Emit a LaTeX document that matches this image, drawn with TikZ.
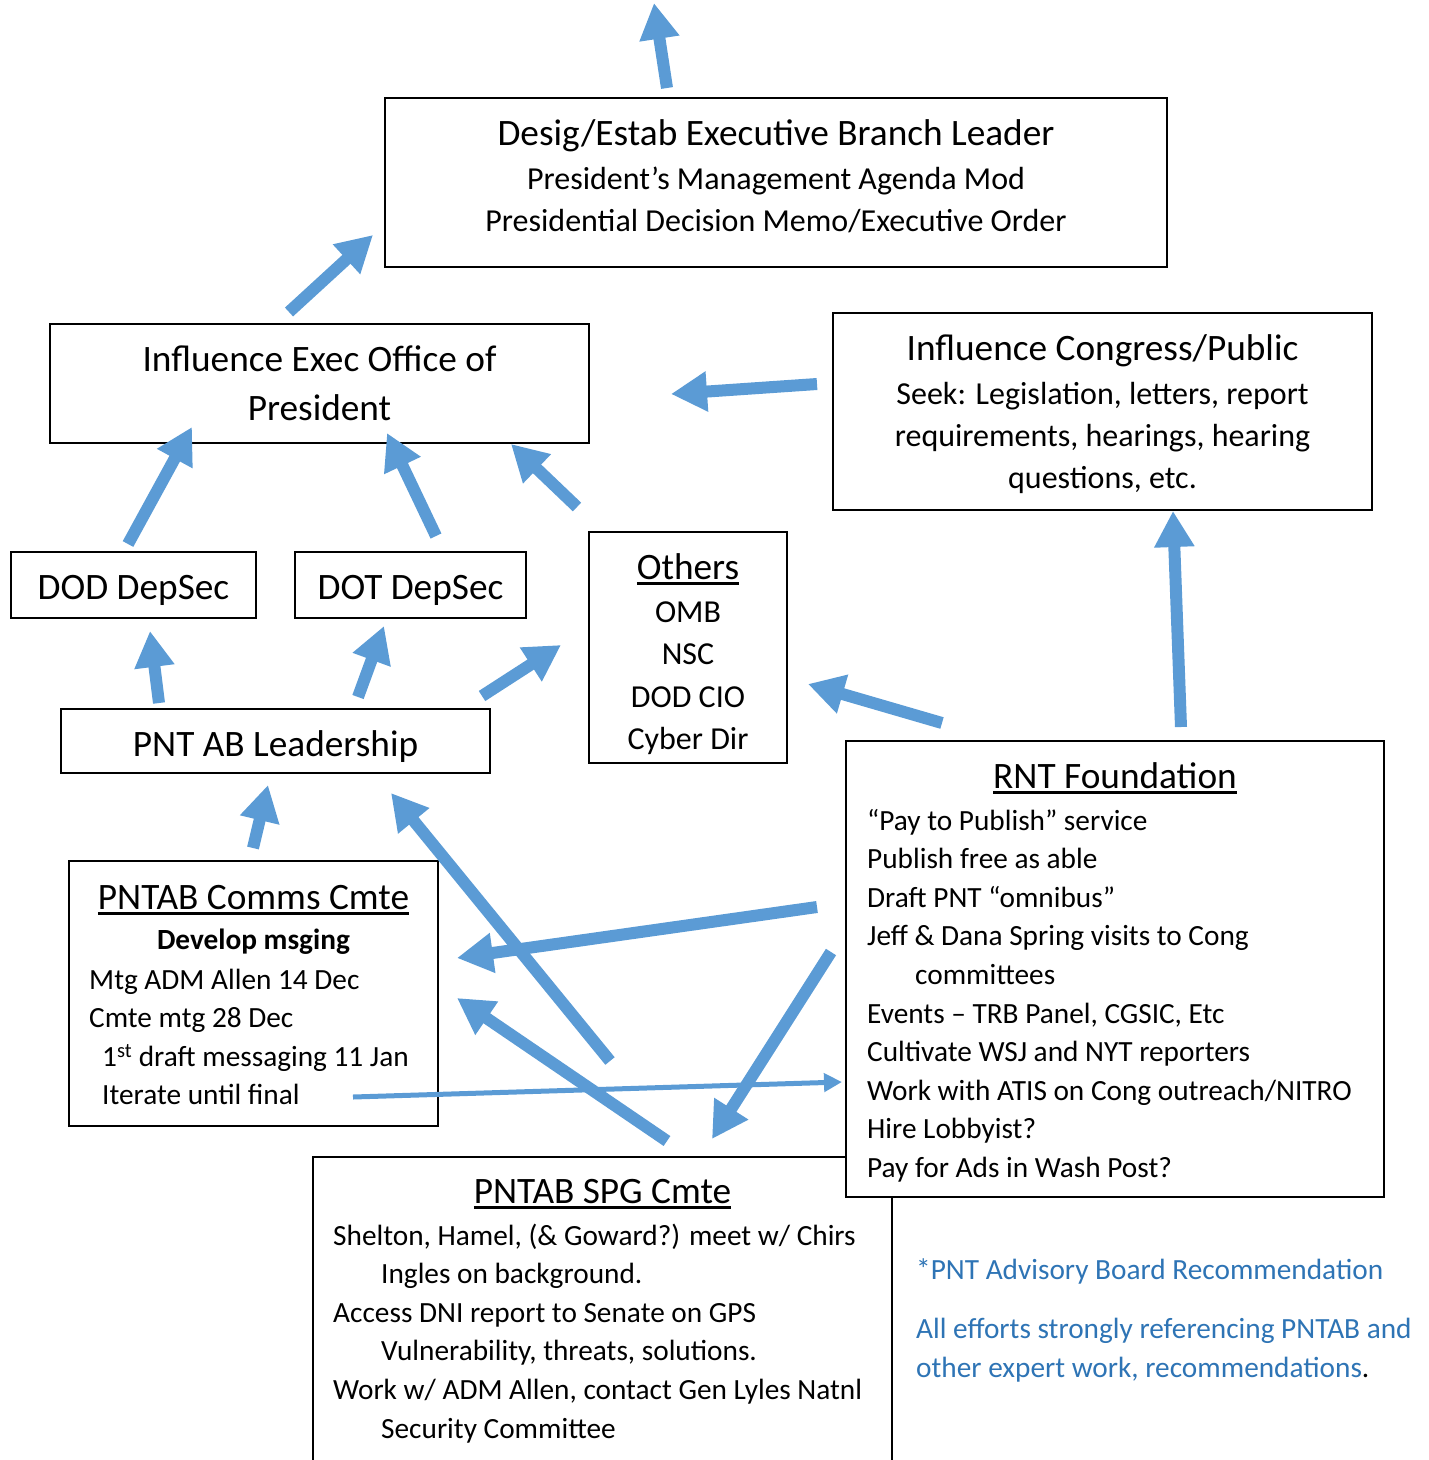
\documentclass[tikz,border=0pt]{standalone}
\usepackage{fontspec}
\setmainfont{Carlito}
\usepackage{xcolor}
\usetikzlibrary{arrows.meta, calc, positioning}
\definecolor{flowblue}{HTML}{5B9BD5}
\definecolor{noteblue}{HTML}{2E74B5}
\newcommand{\ultext}[1]{\setbox0\hbox{#1}\rlap{\rule[-5.5pt]{\wd0}{2.6pt}}\box0}

\begin{document}
\begin{tikzpicture}[x=1pt, y=-1pt,
    box/.style={draw, line width=2pt, inner sep=0pt},
    big/.style={font=\fontsize{37.3}{49}\selectfont, inner sep=0pt},
    mid/.style={font=\fontsize{32}{42.3}\selectfont, inner sep=0pt},
    small/.style={font=\fontsize{29.3}{38.6}\selectfont, inner sep=0pt},
    flow/.style={draw=flowblue, line width=12pt, -{Triangle[length=36pt, width=38pt]}},
    thinflow/.style={draw=flowblue, line width=5pt, -{Triangle[length=18pt, width=18pt]}}]
    \useasboundingbox (0,0) rectangle (1429,1460);
    \clip (0,0) rectangle (1429,1460);

    % boxes
    \node[box, minimum width=782pt, minimum height=169pt] (exec) at (776,182.5) {};
    \node[box, minimum width=539pt, minimum height=119pt] (eop) at (319.5,383.5) {};
    \node[box, minimum width=539pt, minimum height=197pt] (cong) at (1102.5,411.5) {};
    \node[box, minimum width=245pt, minimum height=66pt] (dod) at (133.5,585) {};
    \node[box, minimum width=231pt, minimum height=66pt] (dot) at (410.5,585) {};
    \node[box, minimum width=198pt, minimum height=231pt] (others) at (688,647.5) {};
    \node[box, minimum width=429pt, minimum height=64pt] (pntab) at (275.5,741) {};
    \node[box, minimum width=369pt, minimum height=265pt] (comms) at (253.5,993.5) {};
    \node[box, minimum width=579pt, minimum height=343pt] (spg) at (602.5,1328.5) {};
    \node[box, fill=white, minimum width=538pt, minimum height=456pt] (rnt) at (1115,969) {};

    % texts (base of a multi-line node = its last line)
    \node[big, anchor=base] (exec-title) at (776,145) {Desig/Estab Executive Branch Leader};
    \node[mid, anchor=base, align=center] (exec-text) at (776,231.5)
        {President’s Management Agenda Mod\\Presidential Decision Memo/Executive Order};
    \node[big, anchor=base, align=center] (eop-text) at (319.5,420) {Influence Exec Office of\\President};
    \node[big, anchor=base] (cong-title) at (1102.5,360) {Influence Congress/Public};
    \node[mid, anchor=base, align=center] (cong-text) at (1102.5,488.6)
        {Seek: Legislation, letters, report\\requirements, hearings, hearing\\questions, etc.};
    \node[big, anchor=base] (dod-text) at (133.5,599) {DOD DepSec};
    \node[big, anchor=base] (dot-text) at (410.5,599) {DOT DepSec};
    \node[big, anchor=base] (others-title) at (688,579) {\ultext{Others}};
    \node[mid, anchor=base, align=center] (others-text) at (688,749.5) {OMB\\NSC\\DOD CIO\\Cyber Dir};
    \node[big, anchor=base] (pntab-text) at (275.5,756) {PNT AB Leadership};
    \node[big, anchor=base] (comms-title) at (253.5,909) {\ultext{PNTAB Comms Cmte}};
    \node[small, anchor=base] (comms-head) at (253.5,949) {\bfseries Develop msging};
    \node[small, anchor=base west, align=left] (comms-text) at (89,1104.8)
        {Mtg ADM Allen 14 Dec\\Cmte mtg 28 Dec\\
         \hspace*{13pt}1\textsuperscript{st} draft messaging 11 Jan\\\hspace*{13pt}Iterate until final};
    \node[big, anchor=base] (rnt-title) at (1115,788) {\ultext{RNT Foundation}};
    \node[small, anchor=base west, align=left] (rnt-text) at (867,1177.4)
        {“Pay to Publish” service\\Publish free as able\\Draft PNT “omnibus”\\
         Jeff \& Dana Spring visits to Cong\\\hspace*{48pt}committees\\
         Events – TRB Panel, CGSIC, Etc\\Cultivate WSJ and NYT reporters\\
         Work with ATIS on Cong outreach/NITRO\\Hire Lobbyist?\\Pay for Ads in Wash Post?};
    \node[big, anchor=base] (spg-title) at (602.5,1203) {\ultext{PNTAB SPG Cmte}};
    \node[small, anchor=base west, align=left] (spg-text) at (333,1438)
        {Shelton, Hamel, (\& Goward?) meet w/ Chirs\\\hspace*{48pt}Ingles on background.\\
         Access DNI report to Senate on GPS\\\hspace*{48pt}Vulnerability, threats, solutions.\\
         Work w/ ADM Allen, contact Gen Lyles Natnl\\\hspace*{48pt}Security Committee};
    \node[small, anchor=base west, text=noteblue] (note-a) at (916,1279) {*PNT Advisory Board Recommendation};
    \node[small, anchor=base west, align=left, text=noteblue, font=\fontsize{29.3}{39}\selectfont] (note-b) at (916,1377)
        {All efforts strongly referencing PNTAB and\\other expert work, recommendations{\color{black}.}};

    % arrows
    \draw[flow] ($(exec.north)+(-109,-9)$) -- ($(exec.north)+(-122,-94)$);
    \draw[flow] ($(eop.north)+(-30.5,-11)$) -- ($(exec.south west)+(-11,-33)$);
    \draw[flow] ($(dod.north)+(-5.5,-7)$) -- ($(eop.south)+(-127.5,-17)$);
    \draw[flow] ($(dot.north)+(25.5,-15)$) -- ($(eop.south)+(67.5,-11)$);
    \draw[flow] ($(others.north west)+(-11,-24)$) -- ($(eop.south east)+(-79,0)$);
    \draw[flow] ($(cong.west)+(-15,-27.5)$) -- ($(eop.east)+(81,10.5)$);
    \draw[flow] ($(pntab.north west)+(99,-5)$) -- ($(dod.south)+(16.5,12)$);
    \draw[flow] ($(pntab.north)+(82.5,-11)$) -- ($(dot.south)+(-26.5,7)$);
    \draw[flow] ($(pntab.north east)+(-9,-12)$) -- ($(others.west)+(-27,-2.5)$);
    \draw[flow] ($(rnt.north west)+(97,-17)$) -- ($(others.east)+(20,36.5)$);
    \draw[flow] ($(rnt.north)+(66,-13)$) -- ($(cong.south)+(70.5,0)$);
    \draw[flow] ($(comms.north)+(-0.5,-12)$) -- ($(pntab.south)+(-7.5,11)$);
    \draw[flow] ($(spg.north)+(7.5,-95)$) -- ($(pntab.south east)+(-100,19)$);
    \draw[flow] ($(rnt.west)+(-28,-62)$) -- ($(comms.east)+(18,-35.5)$);
    \draw[flow] ($(spg.north)+(64.5,-15)$) -- ($(comms.east)+(18,4.5)$);
    \draw[flow] ($(rnt.west)+(-14,-17)$) -- ($(spg.north)+(109.5,-17)$);
    \draw[thinflow] ($(comms.south east)+(-86,-30)$) -- ($(rnt.west)+(-3,113)$);
\end{tikzpicture}
\end{document}
